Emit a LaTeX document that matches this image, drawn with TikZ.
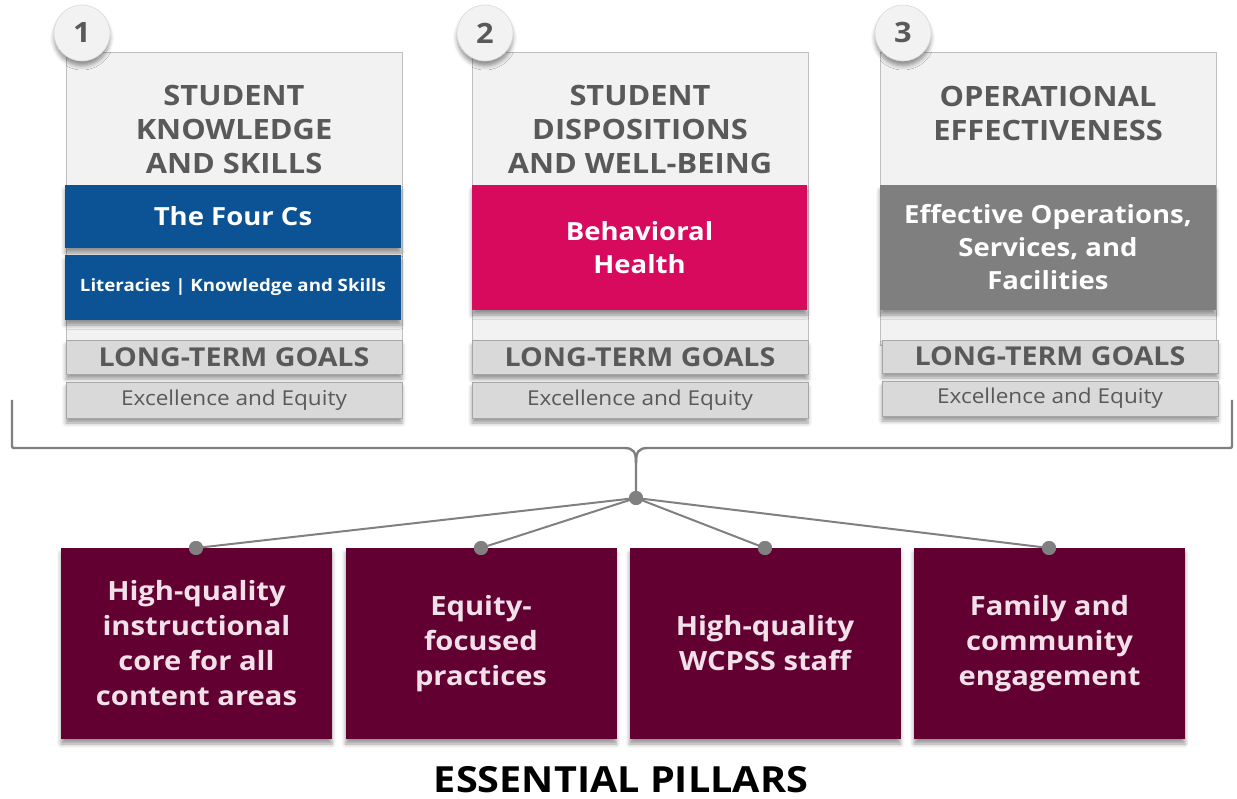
\documentclass[tikz,border=0pt]{standalone}
\usepackage{fontspec}
\setmainfont{Open Sans}[FakeStretch=1.1]
\usetikzlibrary{shadows.blur}

\definecolor{inkgray}{HTML}{595959}
\definecolor{panelfill}{HTML}{F2F2F2}
\definecolor{panelline}{HTML}{BFBFBF}
\definecolor{goalfill}{HTML}{D9D9D9}
\definecolor{goalline}{HTML}{A6A6A6}
\definecolor{skillblue}{HTML}{0B5394}
\definecolor{healthpink}{HTML}{D80A5E}
\definecolor{opsgray}{HTML}{7F7F7F}
\definecolor{pillarred}{HTML}{620032}
\definecolor{pillartext}{HTML}{F3E1EA}
\definecolor{linkgray}{HTML}{808080}

\tikzset{
  box/.style={rectangle, inner sep=0pt, outer sep=0pt, align=center},
  softshadow/.style={blur shadow={shadow xshift=0pt, shadow yshift=-5pt,
      shadow blur radius=4pt, shadow opacity=40}},
  panel/.style={box, fill=panelfill, draw=panelline, line width=0.8pt,
      minimum width=336pt, minimum height=293pt},
  heading/.style={align=center, text=inkgray, font=\bfseries\fontsize{28}{34}\selectfont},
  band/.style={box, softshadow, text=white, minimum width=336pt,
      font=\bfseries\fontsize{25}{33}\selectfont},
  goalbox/.style={box, softshadow, fill=goalfill, draw=goalline, line width=0.6pt,
      minimum width=336pt, text=inkgray},
  goalhead/.style={goalbox, minimum height=34pt, font=\bfseries\fontsize{26}{28}\selectfont},
  goaltext/.style={goalbox, minimum height=36pt, font=\fontsize{20.5}{22}\selectfont},
  badge/.style={circle, minimum size=56pt, inner sep=0pt, fill=panelfill,
      draw=goalfill, line width=0.6pt, softshadow, text=inkgray,
      font=\bfseries\fontsize{28}{30}\selectfont},
  pillar/.style={box, softshadow, fill=pillarred, minimum width=271pt,
      minimum height=191pt, text=pillartext,
      font=\bfseries\fontsize{26.5}{35}\selectfont},
  knot/.style={circle, fill=linkgray, minimum size=14pt, inner sep=0pt},
  link/.style={draw=linkgray, line width=2.4pt},
}

\begin{document}
\begin{tikzpicture}[x=1pt, y=-1pt]
\useasboundingbox (0,0) rectangle (1237,799);

% ---- column 1: student knowledge and skills
\node[panel] (p1) at (234,198.5) {};
\node[heading] (h1) at (234,130) {STUDENT\\KNOWLEDGE\\AND SKILLS};
\node[band, fill=skillblue, minimum height=63pt] (fourcs) at (233,216.5) {The Four Cs};
\node[band, fill=skillblue, minimum height=65pt,
      font=\bfseries\fontsize{17}{20}\selectfont] (lit) at (233,287.5)
      {Literacies | Knowledge and Skills};
\node[goalhead] (g1) at (234,357) {LONG-TERM GOALS};
\node[goaltext] (e1) at (234,400) {Excellence and Equity};
\node[badge] (n1) at (82,33) {1};

% ---- column 2: dispositions and well-being
\node[panel] (p2) at (640,198.5) {};
\node[heading] (h2) at (640,130) {STUDENT\\DISPOSITIONS\\AND WELL-BEING};
\node[band, fill=healthpink, minimum width=335pt, minimum height=125pt] (health)
      at (639.5,247.5) {Behavioral\\Health};
\node[goalhead] (g2) at (640,357.5) {LONG-TERM GOALS};
\node[goaltext] (e2) at (640,400) {Excellence and Equity};
\node[badge] (n2) at (485,33) {2};

% ---- column 3: operational effectiveness
\node[panel] (p3) at (1048,198.5) {};
\node[heading] (h3) at (1048,113) {OPERATIONAL\\EFFECTIVENESS};
\node[band, fill=opsgray, minimum height=125pt] (ops) at (1048,247.5)
      {Effective Operations,\\Services, and\\Facilities};
\node[goalhead, minimum height=33pt] (g3) at (1050,356.5) {LONG-TERM GOALS};
\node[goaltext, minimum height=35pt] (e3) at (1050,398.5) {Excellence and Equity};
\node[badge] (n3) at (903,33) {3};

% ---- essential pillars
\node[pillar] (q1) at (196.5,643.5) {High-quality\\instructional\\core for all\\content areas};
\node[pillar] (q2) at (481,643.5) {Equity-\\focused\\practices};
\node[pillar] (q3) at (765,643.5) {High-quality\\WCPSS staff};
\node[pillar] (q4) at (1049.5,643.5) {Family and\\community\\engagement};

\node[font=\bfseries\fontsize{36}{38}\selectfont, text=black, inner sep=0pt,
      anchor=base] (title) at (621,792) {ESSENTIAL PILLARS};

% ---- brace gathering the three columns
\coordinate (bl) at (12,400);
\coordinate (br) at (1232,400);
\node[knot] (hub) at (636,498) {};
\draw[link, line join=round]
  (bl) -- (12,444) .. controls (12,448) .. (16,448) -- (624,448)
  .. controls (634,448) and (636,452) .. (636,464) -- (hub.center);
\draw[link, line join=round]
  (br) -- (1232,444) .. controls (1232,448) .. (1228,448) -- (648,448)
  .. controls (638,448) and (636,452) .. (636,464);

% ---- links from the brace to each pillar
\node[knot] (d1) at (196,548) {};
\node[knot] (d2) at (481,548) {};
\node[knot] (d3) at (765,548) {};
\node[knot] (d4) at (1049,548) {};
\foreach \d in {d1,d2,d3,d4}
  \draw[link, line width=2pt] (hub.center) -- (\d.center);
\node[knot] at (hub) {};
\foreach \d in {d1,d2,d3,d4}
  \node[knot] at (\d) {};

\end{tikzpicture}
\end{document}
